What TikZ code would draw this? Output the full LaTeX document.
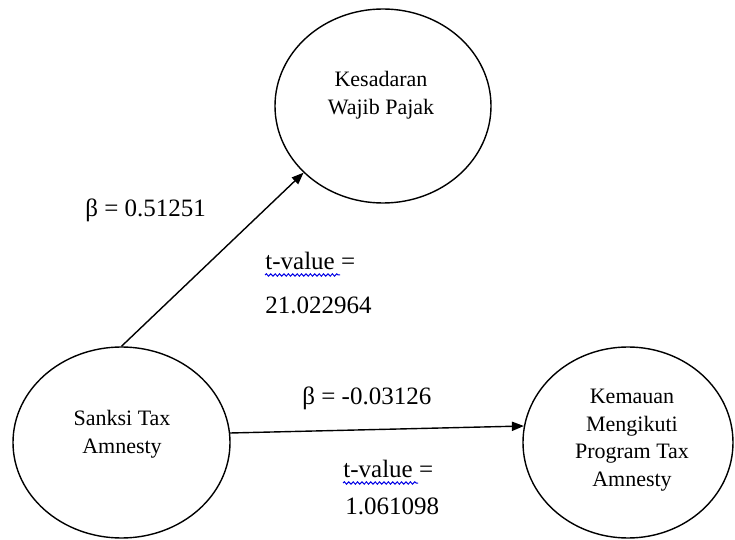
\documentclass[tikz,border=0pt]{standalone}
\usepackage{fontspec}
\setmainfont{Liberation Serif}
\usetikzlibrary{shapes.geometric,arrows.meta,calc,decorations.pathmorphing}
\begin{document}
\begin{tikzpicture}[x=0.5pt,y=-0.5pt,
  construct/.style={draw, ellipse, line width=0.7pt, inner sep=0pt},
  inside/.style={align=center, inner sep=0pt, font=\fontsize{11}{13.8}\selectfont},
  stat/.style={anchor=base west, inner sep=0pt, font=\fontsize{12.5}{15}\selectfont},
  link/.style={line width=0.7pt, -{Triangle[length=6pt,width=4.6pt]}},
  spell/.style={blue!90!black, line width=0.5pt, decorate,
    decoration={snake, amplitude=0.6pt, segment length=2.2pt}}
]
\useasboundingbox (0,0) rectangle (735,540);

% latent constructs
\node[construct, minimum width=108pt, minimum height=97pt] (kesadaran) at (383,106) {};
\node[inside] (kesadaranText) at (381,95) {Kesadaran\\Wajib Pajak};

\node[construct, minimum width=108.5pt, minimum height=95.5pt] (sanksi) at (121.5,442.5) {};
\node[inside] (sanksiText) at (122,434) {Sanksi Tax\\Amnesty};

\node[construct, minimum width=105pt, minimum height=95.5pt] (kemauan) at (628,442.5) {};
\node[inside] (kemauanText) at (632,440) {Kemauan\\Mengikuti\\Program Tax\\Amnesty};

% structural paths
\draw[link] (sanksi.north) -- (kesadaran.220);
\draw[link] (sanksi.5) -- (kemauan.171);

% path coefficients
\node[stat] (beta1) at (85,217) {β = 0.51251};
\node[stat] (tv1) at (265,270) {t-value =};
\node[stat] (t1) at (265,314) {21.022964};

\node[stat] (beta2) at (302,405) {β = -0.03126};
\node[stat] (tv2) at (343,478) {t-value =};
\node[stat] (t2) at (345,515) {1.061098};

% spell-check squiggles under "t-value"
\draw[spell] ($(tv1.base west)+(0,5)$) -- ++(75,0);
\draw[spell] ($(tv2.base west)+(0,5)$) -- ++(75,0);
\end{tikzpicture}
\end{document}
